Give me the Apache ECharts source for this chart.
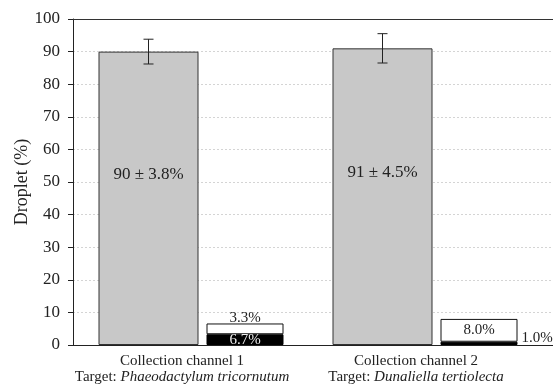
<!DOCTYPE html>
<html><head><meta charset="utf-8">
<script src="https://cdn.jsdelivr.net/npm/echarts@6/dist/echarts.min.js"></script>
<style>html,body{margin:0;padding:0;background:#fff}#c{width:553px;height:384px}</style>
</head><body><div id="c"></div>
<script>
const categories = ['Collection channel 1', 'Collection channel 2'];
const targets = ['Phaeodactylum tricornutum', 'Dunaliella tertiolecta'];
const dropletValues = [90, 91];
const dropletErrors = [3.8, 4.5];
const blackValues = [3.3, 1.0];
const whiteValues = [3.3, 7.0];
const blackLabels = ['6.7%', '1.0%'];
const whiteLabels = ['3.3%', '8.0%'];
const yTicks = [0, 10, 20, 30, 40, 50, 60, 70, 80, 90, 100];

const FONT = 'Liberation Serif';
const GRAY_W = 100, SMALL_W = 77, GAP = 8;
const chart = echarts.init(document.getElementById('c'));

const errorData = dropletValues.map((v, i) => [i, v - dropletErrors[i], v + dropletErrors[i]]);

chart.setOption({
  animation: false,
  textStyle: { fontFamily: FONT, color: '#222' },
  grid: [
    { left: 74, right: 11, top: 19, bottom: 39, outerBoundsMode: 'none', containLabel: false },
    { left: 73, right: 0, top: 19, bottom: 39, outerBoundsMode: 'none', containLabel: false }
  ],
  xAxis: [
    {
      type: 'category', data: categories, gridIndex: 0,
      axisLine: { show: false },
      axisTick: { show: false },
      axisLabel: {
        interval: 0, margin: 8, padding: [0, 18, 0, 0],
        formatter: (v, i) => v + '\n{t|Target: }{i|' + targets[i] + '}',
        fontFamily: FONT, fontSize: 15, color: '#222', lineHeight: 16,
        rich: {
          t: { fontFamily: FONT, fontSize: 15, color: '#222', lineHeight: 16 },
          i: { fontFamily: FONT, fontSize: 15, color: '#222', fontStyle: 'italic', lineHeight: 16 }
        }
      }
    },
    { type: 'value', gridIndex: 1, min: 0, max: 1, position: 'bottom',
      axisLine: { show: true, onZero: false, lineStyle: { color: '#222' } },
      axisTick: { show: false }, axisLabel: { show: false }, splitLine: { show: false } },
    { type: 'value', gridIndex: 1, min: 0, max: 1, position: 'top',
      axisLine: { show: true, onZero: false, lineStyle: { color: '#333' } },
      axisTick: { show: false }, axisLabel: { show: false }, splitLine: { show: false } }
  ],
  yAxis: [
    {
      type: 'value', gridIndex: 0, min: yTicks[0], max: yTicks[yTicks.length - 1], interval: 10,
      axisLine: { show: false }, axisTick: { show: false }, axisLabel: { show: false },
      splitLine: { show: false }
    },
    {
      type: 'value', gridIndex: 1, min: yTicks[0], max: yTicks[yTicks.length - 1], interval: 10,
      name: 'Droplet (%)', nameLocation: 'middle', nameGap: 42, nameMoveOverlap: false,
      nameTextStyle: { fontFamily: FONT, fontSize: 18, color: '#222' },
      axisLine: { show: true, lineStyle: { color: '#222' } },
      axisTick: { show: true, length: 5, inside: false, lineStyle: { color: '#222' } },
      axisLabel: { fontFamily: FONT, fontSize: 17, color: '#222', margin: 13 },
      splitLine: { show: true, lineStyle: { color: '#d4d4d4', type: [2, 2], width: 1 } }
    }
  ],
  series: [
    {
      type: 'bar', name: 'Droplet', xAxisIndex: 0, yAxisIndex: 0,
      data: dropletValues, barWidth: GRAY_W, barGap: (GAP / GRAY_W * 100) + '%',
      itemStyle: { color: '#c8c8c8', borderColor: '#333', borderWidth: 1 },
      label: {
        show: true, position: 'inside', offset: [0, -24],
        fontFamily: FONT, fontSize: 17, color: '#222',
        formatter: p => p.value + ' ± ' + dropletErrors[p.dataIndex] + '%'
      },
      z: 2
    },
    {
      type: 'bar', name: 'Black', stack: 'small', xAxisIndex: 0, yAxisIndex: 0,
      data: blackValues.map((v, i) => ({
        value: v,
        label: i === 0
          ? { show: true, position: 'inside', offset: [0, 0], color: '#eee' }
          : { show: true, position: 'right', distance: 4, offset: [0, -5], color: '#222' }
      })),
      barWidth: SMALL_W,
      itemStyle: { color: '#000', borderColor: '#000', borderWidth: 1 },
      label: { fontFamily: FONT, fontSize: 15, formatter: p => blackLabels[p.dataIndex] },
      z: 3
    },
    {
      type: 'bar', name: 'White', stack: 'small', xAxisIndex: 0, yAxisIndex: 0,
      data: whiteValues.map((v, i) => ({
        value: v,
        label: i === 0
          ? { show: true, position: 'top', distance: -2 }
          : { show: true, position: 'inside' }
      })),
      barWidth: SMALL_W,
      itemStyle: { color: '#fff', borderColor: '#111', borderWidth: 1 },
      label: { fontFamily: FONT, fontSize: 15, color: '#222', formatter: p => whiteLabels[p.dataIndex] },
      z: 3
    },
    {
      type: 'custom', name: 'Error', xAxisIndex: 0, yAxisIndex: 0,
      data: errorData,
      renderItem: (params, api) => {
        const x = api.value(0);
        const lo = api.coord([x, api.value(1)]);
        const hi = api.coord([x, api.value(2)]);
        const total = GRAY_W + GAP + SMALL_W;
        const cx = lo[0] - total / 2 + GRAY_W / 2;
        const half = 5;
        const style = { stroke: '#222', lineWidth: 1 };
        return {
          type: 'group',
          children: [
            { type: 'line', shape: { x1: cx, y1: lo[1], x2: cx, y2: hi[1] }, style },
            { type: 'line', shape: { x1: cx - half, y1: lo[1], x2: cx + half, y2: lo[1] }, style },
            { type: 'line', shape: { x1: cx - half, y1: hi[1], x2: cx + half, y2: hi[1] }, style }
          ]
        };
      },
      z: 10
    }
  ]
});
</script>
</body></html>
